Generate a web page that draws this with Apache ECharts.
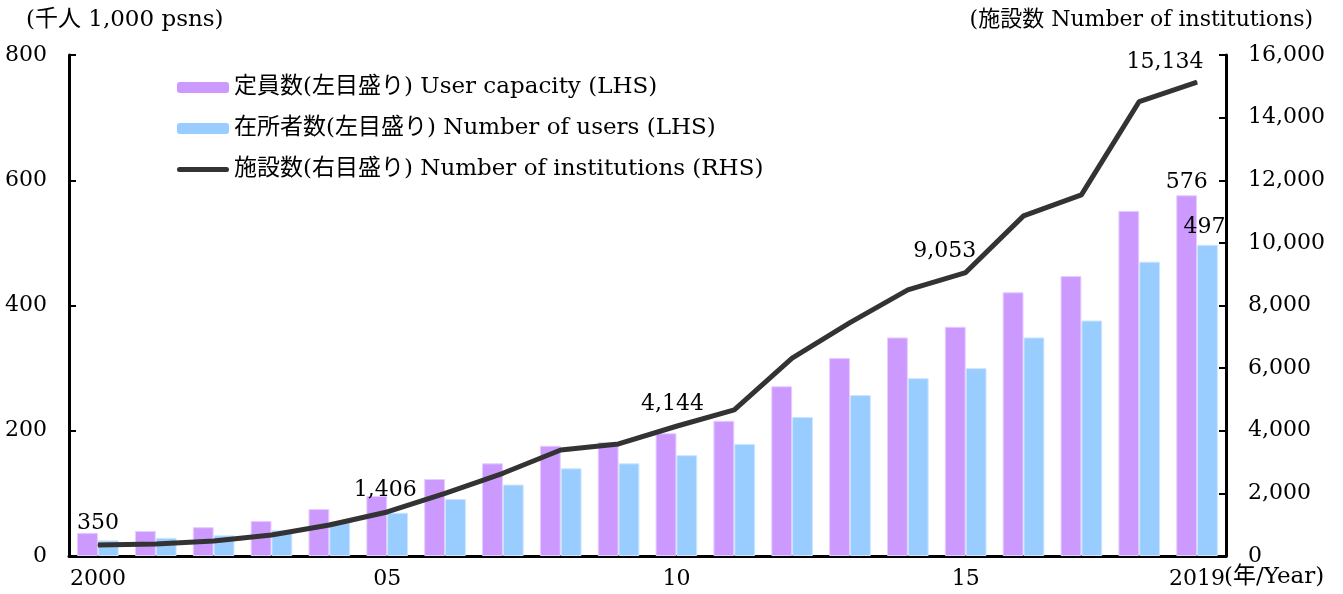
<!DOCTYPE html>
<html>
<head>
<meta charset="utf-8">
<script src="https://cdn.jsdelivr.net/npm/echarts@6/dist/echarts.min.js"></script>
<style>
  html, body { margin: 0; padding: 0; background: #fff; }
  #chart { width: 1343px; height: 594px; }
</style>
</head>
<body>
<div id="chart"></div>
<script>
// 年次
const years = ['2000', '2001', '2002', '2003', '2004', '2005', '2006', '2007', '2008', '2009',
  '2010', '2011', '2012', '2013', '2014', '2015', '2016', '2017', '2018', '2019'];
// x軸に表示するラベル
const yearLabels = { '2000': '2000', '2005': '05', '2010': '10', '2015': '15', '2019': '2019' };
// 定員数（千人）
const capacity = [37, 40, 46, 56, 75, 96, 123, 148, 176, 182, 196, 216, 271, 316, 349, 366, 421, 447, 551, 576];
// 在所者数（千人）
const users = [25, 29, 33, 41, 55, 69, 91, 114, 140, 148, 161, 179, 222, 257, 284, 300, 349, 376, 470, 497];
// 施設数
const institutions = [350, 383, 479, 671, 990, 1406, 2003, 2642, 3387, 3578, 4144, 4665, 6316, 7454, 8498, 9053, 10862, 11533, 14514, 15134];
// 数値ラベルを付ける年
const lineLabelYears = ['2000', '2005', '2010', '2015', '2019'];
const leftTicks = [0, 200, 400, 600, 800];
const rightTicks = [0, 2000, 4000, 6000, 8000, 10000, 12000, 14000, 16000];

const FONT = "'DejaVu Serif', 'Liberation Serif', 'Noto Sans CJK JP', serif";
const fmt = v => v.toLocaleString('en-US');

// ラベル位置の微調整
const lineLabelOffset = { '2000': [0, 0], '2005': [-2, 0], '2010': [-4, 0], '2015': [-21, 0], '2019': [-32, 2] };

const lineData = institutions.map((v, i) => {
  const y = years[i];
  if (!lineLabelYears.includes(y)) return v;
  return { value: v, label: { show: true, offset: lineLabelOffset[y] } };
});
const capData = capacity.map((v, i) =>
  i === years.length - 1 ? { value: v, label: { show: true, position: 'top', distance: 2 } } : v);
const userData = users.map((v, i) =>
  i === years.length - 1 ? { value: v, label: { show: true, position: 'top', distance: 2, offset: [-3, -4] } } : v);

const chart = echarts.init(document.getElementById('chart'));

const axisLine = { show: true, lineStyle: { color: '#000', width: 3 } };
const lineIcon = 'path://M2.5,0 L49.5,0 A2.5,2.5 0 0 1 49.5,5 L2.5,5 A2.5,2.5 0 0 1 2.5,0 Z';

chart.setOption({
  backgroundColor: '#ffffff',
  animation: false,
  textStyle: { fontFamily: FONT },
  grid: { left: 69, right: 117, top: 55, bottom: 38 },
  legend: {
    orient: 'vertical',
    left: 172,
    top: 71,
    itemWidth: 52,
    itemHeight: 11,
    itemGap: 18,
    itemStyle: { borderWidth: 0 },
    textStyle: { fontFamily: FONT, fontSize: 23, color: '#000' },
    data: [
      { name: '定員数(左目盛り) User capacity (LHS)' },
      { name: '在所者数(左目盛り) Number of users (LHS)' },
      { name: '施設数(右目盛り) Number of institutions (RHS)', icon: lineIcon }
    ]
  },
  graphic: [
    { type: 'text', left: 26, top: 9, style: { text: '(千人 1,000 psns)', font: '23px ' + FONT, fill: '#000' } },
    { type: 'text', right: 30, top: 9, style: { text: '(施設数 Number of institutions)', font: '22px ' + FONT, fill: '#000' } },
    { type: 'text', left: 1224, top: 566, style: { text: '(年/Year)', font: '23px ' + FONT, fill: '#000' } }
  ],
  xAxis: {
    type: 'category',
    data: years,
    boundaryGap: true,
    axisLine: axisLine,
    axisTick: { show: false },
    axisLabel: {
      interval: 0,
      margin: 12,
      fontSize: 22,
      color: '#000',
      fontFamily: FONT,
      formatter: v => yearLabels[v] || ''
    }
  },
  yAxis: [
    {
      type: 'value',
      min: leftTicks[0],
      max: leftTicks[leftTicks.length - 1],
      interval: 200,
      axisLine: axisLine,
      axisTick: { show: true, inside: true, length: 7, lineStyle: { color: '#000', width: 2 } },
      splitLine: { show: false },
      axisLabel: { margin: 22, fontSize: 22, color: '#000', fontFamily: FONT }
    },
    {
      type: 'value',
      min: rightTicks[0],
      max: rightTicks[rightTicks.length - 1],
      interval: 2000,
      position: 'right',
      axisLine: axisLine,
      axisTick: { show: true, inside: true, length: 7, lineStyle: { color: '#000', width: 2 } },
      splitLine: { show: false },
      axisLabel: { margin: 22, fontSize: 22, color: '#000', fontFamily: FONT, formatter: fmt }
    }
  ],
  series: [
    {
      name: '定員数(左目盛り) User capacity (LHS)',
      type: 'bar',
      yAxisIndex: 0,
      data: capData,
      barGap: '0%',
      barCategoryGap: '28%',
      itemStyle: { color: '#cc99ff', borderColor: '#e6ccff', borderWidth: 1 },
      label: { show: false, fontSize: 22, color: '#000', fontFamily: FONT },
      z: 2
    },
    {
      name: '在所者数(左目盛り) Number of users (LHS)',
      type: 'bar',
      yAxisIndex: 0,
      data: userData,
      itemStyle: { color: '#99ccff', borderColor: '#cce6ff', borderWidth: 1 },
      label: { show: false, fontSize: 22, color: '#000', fontFamily: FONT },
      z: 2
    },
    {
      name: '施設数(右目盛り) Number of institutions (RHS)',
      type: 'line',
      yAxisIndex: 1,
      data: lineData,
      symbol: 'circle',
      symbolSize: 1,
      showSymbol: true,
      itemStyle: { color: '#333333' },
      lineStyle: { color: '#333333', width: 5 },
      label: {
        show: false,
        position: 'top',
        distance: 10,
        fontSize: 22,
        color: '#000',
        fontFamily: FONT,
        formatter: p => fmt(p.value)
      },
      z: 5
    }
  ]
});
</script>
</body>
</html>
